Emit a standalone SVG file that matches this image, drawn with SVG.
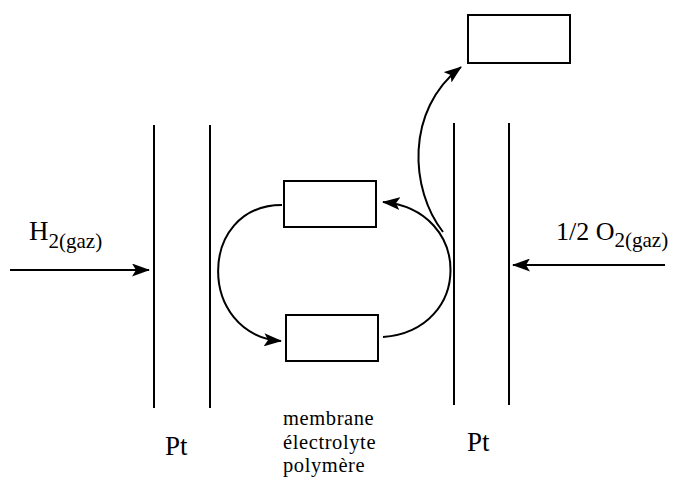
<svg xmlns="http://www.w3.org/2000/svg" width="676" height="477" viewBox="0 0 676 477">
<style>
.ln{stroke:#000;stroke-width:2;fill:none}
.box{stroke:#000;stroke-width:2;fill:#fff}
.t{font-family:'Liberation Serif','Tinos','Times New Roman','Times','Noto Serif','DejaVu Serif',serif;fill:#000}
</style>
<defs>
<marker id="ah" viewBox="0 0 18 13" refX="17" refY="6.5" markerWidth="18" markerHeight="13" markerUnits="userSpaceOnUse" orient="auto">
<path d="M0,0 L18,6.5 L0,13 L4,6.5 z" fill="#000"/>
</marker>
</defs>
<g id="electrodes">
<line class="ln" x1="154" y1="125" x2="154" y2="408"/>
<line class="ln" x1="210" y1="125" x2="210" y2="408"/>
<line class="ln" x1="454" y1="123" x2="454" y2="405"/>
<line class="ln" x1="509" y1="123" x2="509" y2="405"/>
</g>
<g id="box-top"><rect class="box" x="468" y="15" width="102" height="48"/></g>
<g id="box-upper"><rect class="box" x="284" y="181" width="92" height="46"/></g>
<g id="box-lower"><rect class="box" x="286" y="315" width="92" height="46"/></g>
<g id="connectors">
<line class="ln" x1="10" y1="270" x2="149" y2="270" marker-end="url(#ah)"/>
<line class="ln" x1="665" y1="265" x2="513" y2="265" marker-end="url(#ah)"/>
<path class="ln" d="M282,205 C197,205 197,335 281,341" marker-end="url(#ah)"/>
<path class="ln" d="M383,337 C473,330 473,210 383,202" marker-end="url(#ah)"/>
<path class="ln" d="M443,232 C410,190 405,110 461,67" marker-end="url(#ah)"/>
</g>
<g id="labels">
<text class="t" x="29" y="240" font-size="27">H<tspan font-size="21" dy="8">2(gaz)</tspan></text>
<text class="t" x="556" y="240" font-size="26">1/2 O<tspan font-size="21" dy="7">2(gaz)</tspan></text>
<text class="t" x="165" y="455" font-size="27">Pt</text>
<text class="t" x="467" y="451" font-size="27">Pt</text>
<text class="t" x="283" y="425" font-size="20.5" letter-spacing="0.6">membrane</text>
<text class="t" x="283" y="449" font-size="20.5" letter-spacing="0.6">électrolyte</text>
<text class="t" x="283" y="472" font-size="20.5" letter-spacing="0.6">polymère</text>
</g>
</svg>
